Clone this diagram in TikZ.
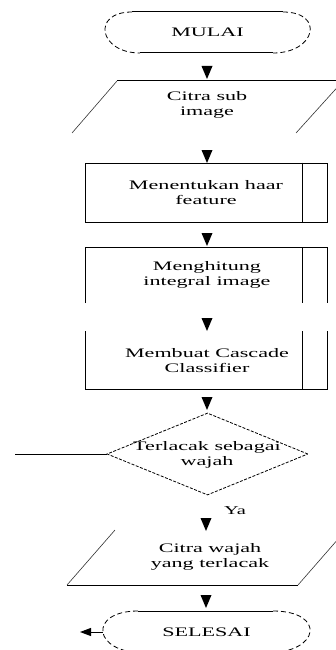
\documentclass[tikz,border=0pt]{standalone}
\usepackage{fontspec}
\setmainfont[FakeStretch=1.7]{Liberation Serif}
\usetikzlibrary{
    arrows.meta,
    shapes.geometric,
    shapes.misc,
    positioning
}
\tikzstyle{flowtext} = [
    align=center,
    inner sep=0pt,
    font=\fontsize{13}{15}\selectfont
]
\tikzstyle{terminal} = [
    rectangle,
    minimum width=205pt,
    minimum height=41pt,
    font=\fontsize{13}{15}\selectfont
]
\tikzstyle{termend} = [
    dash pattern=on 5pt off 3pt,
    line width=0.8pt,
    draw=black
]
\tikzstyle{process} = [
    rectangle,
    draw=black,
    line width=1pt,
    minimum width=242pt,
    minimum height=59pt,
    align=center,
    font=\fontsize{13}{15}\selectfont
]
\tikzstyle{decision} = [
    diamond,
    draw=black,
    dash pattern=on 3pt off 1.5pt,
    line width=0.8pt,
    minimum width=201pt,
    minimum height=82pt,
    inner sep=0pt
]
\tikzstyle{edge} = [
    line width=1pt,
    draw=black
]
\tikzstyle{slant} = [
    line width=0.6pt,
    draw=black!80
]
\newcommand{\downtip}[2]{\fill (#1-5.5,#2) -- (#1+5.5,#2) -- (#1,#2+13) -- cycle;}

\begin{document}
\begin{tikzpicture}[x=1pt, y=-1pt]
        \useasboundingbox (0,0) rectangle (336,650);
        \clip (0,0) rectangle (336,650);

        % Mulai
        \node[terminal] (mulai) at (207.5,32.5) {MULAI};
        \draw[edge] (132,12) -- (283,12);
        \draw[edge] (140,53) -- (273,53);
        \draw[termend] (132,12) .. controls (91,12) and (99,53) .. (140,53);
        \draw[termend] (283,12) .. controls (325,12) and (316,53) .. (273,53);
        \downtip{207}{66}

        % Input citra sub image
        \coordinate (subtl) at (117,81);
        \coordinate (subtr) at (343,81);
        \coordinate (subbl) at (72,133);
        \coordinate (subbr) at (296,133);
        \draw[edge] (subtl) -- (subtr);
        \draw[slant] (subtl) -- (subbl);
        \draw[slant] (subtr) -- (subbr);
        \node[flowtext] (subimg) at (207,105) {Citra sub\\image};
        \downtip{207}{150}

        % Proses haar feature
        \node[process] (haar) at (206,192.5) {Menentukan haar\\feature};
        \draw[edge] ([xshift=-25pt]haar.north east) -- ([xshift=-25pt]haar.south east);
        \downtip{207}{233}

        % Integral image
        \draw[edge] (85,303) -- (85,247) -- (327,247) -- (327,303);
        \draw[edge] (302,247) -- (302,303);
        \node[flowtext] (integral) at (207,275) {Menghitung\\integral image};
        \downtip{207}{318}

        % Cascade classifier
        \draw[edge] (85,331) -- (85,389) -- (327,389) -- (327,331);
        \draw[edge] (302,331) -- (302,389);
        \node[flowtext] (cascade) at (207,361) {Membuat Cascade\\Classifier};
        \downtip{207}{397}

        % Keputusan
        \node[decision] (cek) at (207.5,454) {};
        \node[flowtext] (cektext) at (207,455) {Terlacak sebagai\\wajah};
        \coordinate (tidak) at (15,454);
        \draw[edge] (cek.west) -- (tidak);
        \node[flowtext, font=\fontsize{12}{14}\selectfont] (ya) at (235,511) {Ya};
        \downtip{206}{518}

        % Output citra wajah
        \coordinate (wajtl) at (115,530);
        \coordinate (wajtr) at (346,530);
        \coordinate (wajbl) at (67,585);
        \coordinate (wajbr) at (298,585);
        \draw[edge] (wajbl) -- (wajbr);
        \draw[slant] (wajtl) -- (wajbl);
        \draw[slant] (wajtr) -- (wajbr);
        \node[flowtext] (wajah) at (210,557) {Citra wajah\\yang terlacak};
        \downtip{206}{595}

        % Selesai
        \node[terminal, minimum width=207pt, minimum height=42pt] (selesai) at (206.5,632) {SELESAI};
        \draw[edge] (138,611) -- (273,611);
        \draw[termend] (138,611) .. controls (88,611) and (92,653) .. (145,653);
        \draw[termend] (273,611) .. controls (326,611) and (321,653) .. (266,653);
        \coordinate (keluar) at (80,632);
        \draw[edge, -{Triangle[width=8pt,length=11pt]}] (selesai.west) -- (keluar);
    \end{tikzpicture}
\end{document}
